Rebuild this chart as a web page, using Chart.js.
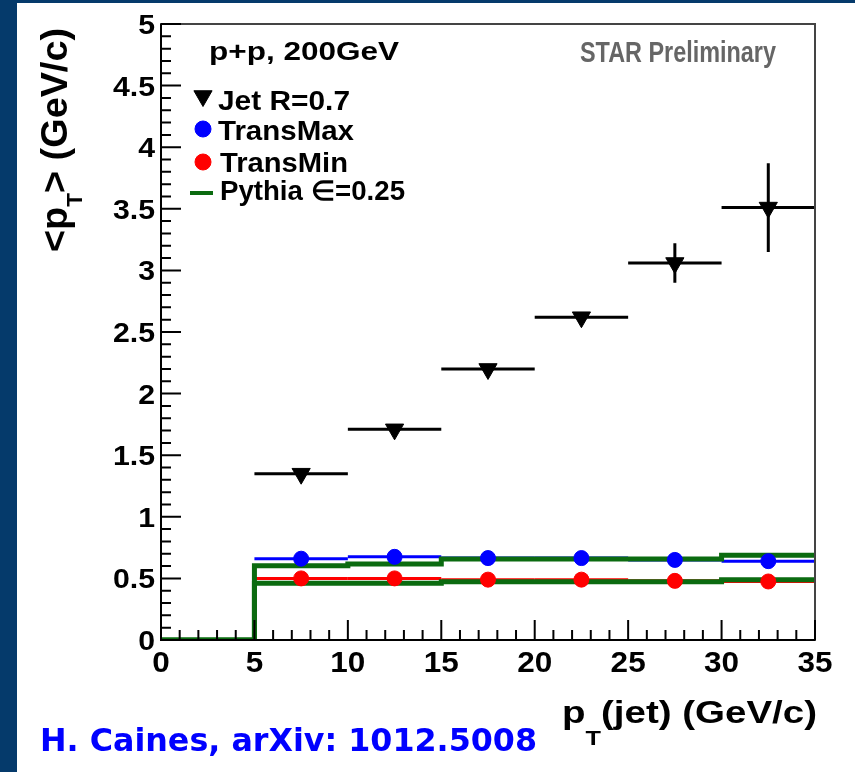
<!DOCTYPE html>
<html>
<head>
<meta charset="utf-8">
<script src="https://cdn.jsdelivr.net/npm/chart.js@4.4.1/dist/chart.umd.min.js"></script>
<style>
  html, body { margin: 0; padding: 0; background: #053a6b; }
  #wrap { width: 855px; height: 772px; }
  canvas { display: block; }
</style>
</head>
<body>
<div id="wrap"><canvas id="meanPtChart" width="855" height="772"></canvas></div>
<script>
// jet pT bins (GeV/c)
const binCenters = [7.5, 12.5, 17.5, 22.5, 27.5, 32.5];
const binHalfWidth = 2.5;

// <pT> of jet constituents and of the transverse regions
const jetMeanPt = [1.35, 1.71, 2.20, 2.62, 3.06, 3.51];
const jetErr = [0.03, 0.03, 0.03, 0.04, 0.16, 0.36];
const transMaxPt = [0.66, 0.675, 0.665, 0.665, 0.65, 0.64];
const transMinPt = [0.50, 0.50, 0.49, 0.49, 0.48, 0.475];

// Pythia histograms, one value per 5 GeV/c bin
const pythiaEdges = [0, 5, 10, 15, 20, 25, 30, 35];
const pythiaMax = [0, 0.603, 0.617, 0.657, 0.657, 0.657, 0.687];
const pythiaMin = [0, 0.46, 0.46, 0.473, 0.473, 0.473, 0.49];

const yTickValues = [0, 0.5, 1, 1.5, 2, 2.5, 3, 3.5, 4, 4.5, 5];
const xTickValues = [0, 5, 10, 15, 20, 25, 30, 35];

const NAVY = '#053a6b';
const GREEN = '#0b6b10';
const FONT = '"Liberation Sans", Arial, sans-serif';

function points(vals, err) {
    return binCenters.map((x, i) => ({ x: x, y: vals[i], xErr: binHalfWidth, yErr: err ? err[i] : 0 }));
}
function histo(vals) {
    // last edge repeats the last bin so the step closes at 35
    return pythiaEdges.map((x, i) => ({ x: x, y: vals[Math.min(i, vals.length - 1)] }));
}

// draw text made of parts (for subscripts), scaled along the text to a given length
function fitText(ctx, parts, x, y, length, stretch, rotate) {
    ctx.save();
    let total = 0;
    parts.forEach(p => {
        ctx.font = 'bold ' + p.size + 'px ' + (p.family || FONT);
        p.w = ctx.measureText(p.t).width;
        total += p.w;
    });
    const k = length ? length / total : 1;
    ctx.translate(x, y);
    if (rotate) {
        ctx.scale(stretch, 1);
        ctx.rotate(-Math.PI / 2);
    }
    ctx.scale(k, 1);
    let cx = 0;
    parts.forEach(p => {
        ctx.font = 'bold ' + p.size + 'px ' + (p.family || FONT);
        ctx.fillStyle = p.color || '#000';
        ctx.textBaseline = 'alphabetic';
        ctx.textAlign = 'left';
        ctx.fillText(p.t, cx, p.dy || 0);
        cx += p.w;
    });
    ctx.restore();
}

const backgroundPlugin = {
    id: 'slideBackground',
    beforeDraw(chart) {
        const ctx = chart.ctx;
        ctx.save();
        ctx.fillStyle = NAVY;
        ctx.fillRect(0, 0, chart.width, chart.height);
        ctx.fillStyle = '#fff';
        ctx.fillRect(17, 3, chart.width - 17, chart.height - 3);
        ctx.restore();
    }
};

const errorBarPlugin = {
    id: 'errorBars',
    beforeDatasetsDraw(chart) {
        const { ctx, scales: { x, y } } = chart;
        const area = chart.chartArea;
        ctx.save();
        ctx.beginPath();
        ctx.rect(area.left, area.top, area.right - area.left, area.bottom - area.top);
        ctx.clip();
        chart.data.datasets.forEach((ds, i) => {
            if (!ds.errorBarColor || !chart.isDatasetVisible(i)) return;
            ctx.strokeStyle = ds.errorBarColor;
            ctx.lineWidth = 3;
            ds.data.forEach(p => {
                const px = x.getPixelForValue(p.x);
                const py = y.getPixelForValue(p.y);
                ctx.beginPath();
                ctx.moveTo(x.getPixelForValue(p.x - p.xErr), py);
                ctx.lineTo(x.getPixelForValue(p.x + p.xErr), py);
                if (p.yErr) {
                    ctx.moveTo(px, y.getPixelForValue(p.y - p.yErr));
                    ctx.lineTo(px, y.getPixelForValue(p.y + p.yErr));
                }
                ctx.stroke();
            });
        });
        ctx.restore();
    }
};

// ROOT style frame: ticks pointing inside, labels, titles, legend
const framePlugin = {
    id: 'rootFrame',
    afterDatasetsDraw(chart) {
        const { ctx, scales: { x, y } } = chart;
        const a = chart.chartArea;
        ctx.save();
        ctx.lineWidth = 2;
        ctx.strokeStyle = '#444';
        ctx.strokeRect(a.left, a.top, a.right - a.left, a.bottom - a.top);
        ctx.strokeStyle = '#000';
        ctx.beginPath();
        ctx.moveTo(a.left, a.top); ctx.lineTo(a.left, a.bottom); ctx.lineTo(a.right, a.bottom);
        ctx.stroke();

        ctx.beginPath();
        for (let i = 0; i <= 50; i++) {
            const py = y.getPixelForValue(i / 10);
            const len = i % 5 === 0 ? 20 : 10;
            ctx.moveTo(a.left, py); ctx.lineTo(a.left + len, py);
        }
        for (let i = 0; i <= 35; i++) {
            const px = x.getPixelForValue(i);
            const len = i % 5 === 0 ? 20 : 10;
            ctx.moveTo(px, a.bottom); ctx.lineTo(px, a.bottom - len);
        }
        ctx.stroke();
        ctx.restore();
    },
    afterDraw(chart) {
        const { ctx, scales: { x, y } } = chart;
        const a = chart.chartArea;

        // tick labels
        ctx.save();
        ctx.font = 'bold 28px ' + FONT;
        y.ticks.forEach(t => {
            const label = String(t.value);
            const w = ctx.measureText(label).width * 1.08;
            fitText(ctx, [{ t: label, size: 28 }], a.left - 6 - w, y.getPixelForValue(t.value) + 10, w);
        });
        ctx.font = 'bold 30px ' + FONT;
        x.ticks.forEach(t => {
            const label = String(t.value);
            const w = ctx.measureText(label).width * 1.05;
            fitText(ctx, [{ t: label, size: 30 }], x.getPixelForValue(t.value) - w / 2, a.bottom + 32, w);
        });
        ctx.restore();

        // axis titles
        fitText(ctx, [
            { t: 'p', size: 32 },
            { t: 'T', size: 21, dy: 22 },
            { t: '(jet) (GeV/c)', size: 32 }
        ], 562, 723, 255);
        fitText(ctx, [
            { t: '<p', size: 30 },
            { t: 'T', size: 18, dy: 12 },
            { t: '> (GeV/c)', size: 30 }
        ], 67, 252, 224, 1.25, true);

        // labels inside the frame
        fitText(ctx, [{ t: 'p+p, 200GeV', size: 26 }], 209, 60, 190);
        fitText(ctx, [{ t: 'STAR Preliminary', size: 29, color: '#666' }], 580, 62, 196);

        // legend
        const h = Chart.helpers;
        ctx.save();
        ctx.fillStyle = '#000'; ctx.strokeStyle = '#000'; ctx.lineWidth = 1;
        h.drawPoint(ctx, { pointStyle: 'triangle', rotation: 180, radius: 10.5, borderWidth: 1 }, 203, 96);
        ctx.fillStyle = '#0000ff'; ctx.strokeStyle = '#0000ff';
        h.drawPoint(ctx, { pointStyle: 'circle', rotation: 0, radius: 8, borderWidth: 1 }, 203, 129);
        ctx.fillStyle = '#ff0000'; ctx.strokeStyle = '#ff0000';
        h.drawPoint(ctx, { pointStyle: 'circle', rotation: 0, radius: 8, borderWidth: 1 }, 203, 162);
        ctx.strokeStyle = GREEN; ctx.lineWidth = 4;
        ctx.beginPath(); ctx.moveTo(190, 193); ctx.lineTo(213, 193); ctx.stroke();
        ctx.restore();
        fitText(ctx, [{ t: 'Jet R=0.7', size: 27 }], 218, 110, 132);
        fitText(ctx, [{ t: 'TransMax', size: 27 }], 218, 140, 136);
        fitText(ctx, [{ t: 'TransMin', size: 27 }], 220, 172, 128);
        fitText(ctx, [{ t: 'Pythia \u2208=0.25', size: 27 }], 220, 200, 185);

        // reference
        fitText(ctx, [{ t: 'H. Caines, arXiv: 1012.5008', size: 32, color: '#0000ff', family: '"DejaVu Sans", sans-serif' }], 40, 751, 497);
    }
};

new Chart(document.getElementById('meanPtChart'), {
    type: 'scatter',
    data: {
        datasets: [
            {
                label: 'Jet R=0.7',
                data: points(jetMeanPt, jetErr),
                pointStyle: 'triangle',
                rotation: 180,
                pointRadius: 10.5,
                backgroundColor: '#000',
                borderColor: '#000',
                errorBarColor: '#000',
                order: 0
            },
            {
                label: 'TransMax',
                data: points(transMaxPt),
                pointStyle: 'circle',
                pointRadius: 7.5,
                backgroundColor: '#0000ff',
                borderColor: '#0000ff',
                errorBarColor: '#0000ff',
                order: 1
            },
            {
                label: 'TransMin',
                data: points(transMinPt),
                pointStyle: 'circle',
                pointRadius: 7.5,
                backgroundColor: '#ff0000',
                borderColor: '#ff0000',
                errorBarColor: '#ff0000',
                order: 1
            },
            {
                type: 'line',
                label: 'Pythia \u2208=0.25',
                data: histo(pythiaMax),
                stepped: true,
                borderColor: GREEN,
                borderWidth: 5,
                pointRadius: 0,
                fill: false,
                order: 2
            },
            {
                type: 'line',
                label: 'Pythia min',
                data: histo(pythiaMin),
                stepped: true,
                borderColor: GREEN,
                borderWidth: 5,
                pointRadius: 0,
                fill: false,
                order: 2
            }
        ]
    },
    options: {
        responsive: false,
        animation: false,
        layout: { padding: { left: 0, right: 40, top: 24, bottom: 0 } },
        plugins: { legend: { display: false }, tooltip: { enabled: false } },
        scales: {
            x: {
                type: 'linear',
                min: 0,
                max: 35,
                afterFit: s => { s.height = 132; },
                afterBuildTicks: s => { s.ticks = xTickValues.map(v => ({ value: v })); },
                grid: { display: false, drawTicks: false },
                border: { display: false },
                ticks: { display: false }
            },
            y: {
                type: 'linear',
                min: 0,
                max: 5,
                afterFit: s => { s.width = 161; },
                afterBuildTicks: s => { s.ticks = yTickValues.map(v => ({ value: v })); },
                grid: { display: false, drawTicks: false },
                border: { display: false },
                ticks: { display: false }
            }
        }
    },
    plugins: [backgroundPlugin, errorBarPlugin, framePlugin]
});
</script>
</body>
</html>
